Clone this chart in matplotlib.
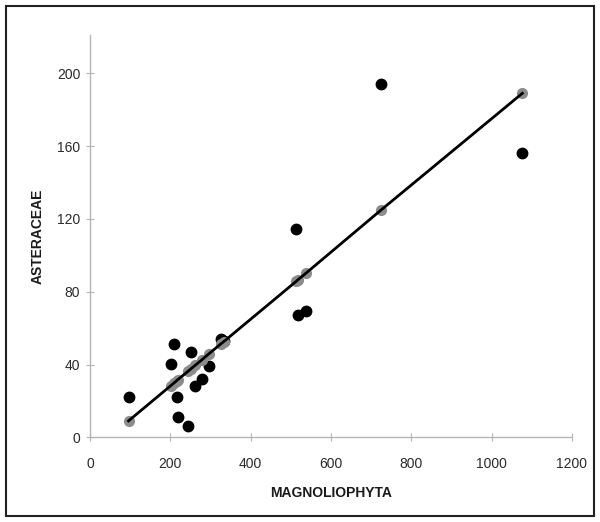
import numpy as np
import matplotlib.pyplot as plt
from matplotlib.patches import Rectangle

plt.rcParams['font.family'] = ['Liberation Sans', 'DejaVu Sans']

# observed values (black dots)
magnoliophyta = [96, 201, 208, 216, 218, 244, 252, 262, 279, 296, 326, 333,
                 514, 517, 539, 725, 1077]
asteraceae = [22.3, 40.3, 51.1, 22.0, 11.3, 6.4, 47.0, 28.2, 32.2, 39.3, 54.2, 53.0,
              114.5, 67.2, 69.6, 194.3, 156.0]

# fitted values (gray dots)
fitted = [9.1, 28.4, 29.7, 31.2, 31.6, 36.3, 37.8, 39.6, 42.7, 45.9, 51.4, 52.6,
          85.8, 86.4, 90.4, 124.9, 189.0]

xticks = [0, 200, 400, 600, 800, 1000, 1200]
yticks = [0, 40, 80, 120, 160, 200]

fig = plt.figure(figsize=(6, 5.22), dpi=100)
ax = fig.add_axes([0.15, 0.162, 0.803, 0.771])

ax.plot(magnoliophyta, asteraceae, 'o', color='black', ms=7.5, zorder=3)
ax.plot(magnoliophyta, fitted, 'o', color='#8c8c8c', ms=7, zorder=4)
order = np.argsort(magnoliophyta)
ax.plot(np.array(magnoliophyta)[order], np.array(fitted)[order], '-', color='black',
        lw=2, zorder=5)

ax.set_xlim(0, 1200)
ax.set_ylim(0, 221)
ax.set_xticks(xticks)
ax.set_yticks(yticks)
for s in ['top', 'right']:
    ax.spines[s].set_visible(False)
for s in ['left', 'bottom']:
    ax.spines[s].set_color('#b5b5b5')
    ax.spines[s].set_linewidth(1)
ax.tick_params(direction='inout', length=6, color='#b5b5b5', labelsize=10,
               labelcolor='#2a2a2a')
ax.tick_params(axis='x', pad=11)
ax.tick_params(axis='y', pad=4)
ax.set_xlabel('MAGNOLIOPHYTA', fontweight='bold', fontsize=10, color='#1a1a1a', labelpad=11)
ax.set_ylabel('ASTERACEAE', fontweight='bold', fontsize=10, color='#1a1a1a', labelpad=9)

fig.patches.append(Rectangle((6 / 600, 6 / 522), 588 / 600, 510 / 522,
                             transform=fig.transFigure, fill=False,
                             edgecolor='#222222', lw=1.5))

fig.savefig('out.png', dpi=100)
